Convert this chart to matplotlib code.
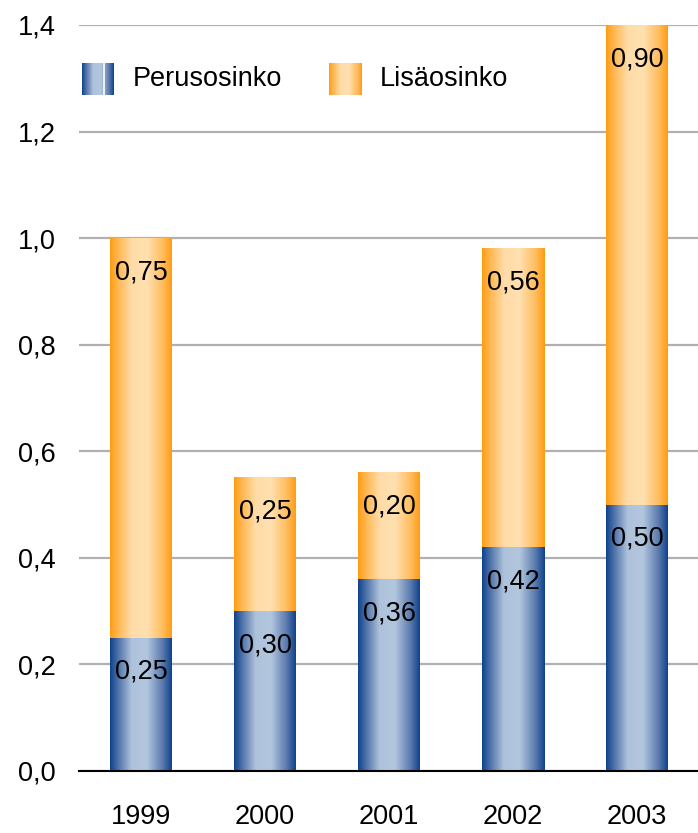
import numpy as np
import matplotlib
matplotlib.use("Agg")
import matplotlib.pyplot as plt
from matplotlib.colors import LinearSegmentedColormap

years = ["1999", "2000", "2001", "2002", "2003"]
perusosinko = [0.25, 0.30, 0.36, 0.42, 0.50]
lisaosinko = [0.75, 0.25, 0.20, 0.56, 0.90]
series_names = ["Perusosinko", "Lisäosinko"]
yticks = [0.0, 0.2, 0.4, 0.6, 0.8, 1.0, 1.2, 1.4]

FONT = ['Liberation Sans', 'DejaVu Sans']
plt.rcParams['font.family'] = FONT

blue_cmap = LinearSegmentedColormap.from_list(
    "b", [(0.0, "#0f428c"), (0.12, "#4a6ea6"), (0.35, "#aec2db"), (0.6, "#b2c6de"),
          (0.85, "#5a7aae"), (1.0, "#0f428c")])
orange_cmap = LinearSegmentedColormap.from_list(
    "o", [(0.0, "#ff9c12"), (0.12, "#ffb54e"), (0.35, "#ffdca8"), (0.6, "#ffe0b0"),
          (0.85, "#ffbd60"), (1.0, "#ff9c12")])
grad = np.linspace(0, 1, 256).reshape(1, -1)

fig = plt.figure(figsize=(6.98, 8.33), dpi=100)
ax = fig.add_axes([79/698, 1-771/833, 620/698, 746/833])

x = np.arange(len(years))
w = 0.5
b1 = ax.bar(x, perusosinko, w, color="none")
b2 = ax.bar(x, lisaosinko, w, bottom=perusosinko, color="none")

for bars, cmap in ((b1, blue_cmap), (b2, orange_cmap)):
    for p in bars:
        x0, y0 = p.get_x(), p.get_y()
        ax.imshow(grad, cmap=cmap, aspect="auto", interpolation="bilinear",
                  extent=[x0, x0 + p.get_width(), y0, y0 + p.get_height()], zorder=2)

for i in range(len(years)):
    ax.annotate(f"{perusosinko[i]:.2f}".replace(".", ","),
                (x[i], perusosinko[i]), xytext=(0, -24.5), textcoords="offset points",
                ha="center", va="center", fontsize=19.5, zorder=4)
    ax.annotate(f"{lisaosinko[i]:.2f}".replace(".", ","),
                (x[i], perusosinko[i] + lisaosinko[i]), xytext=(0, -24.5), textcoords="offset points",
                ha="center", va="center", fontsize=19.5, zorder=4)

ax.set_xlim(-0.5, 4.5)
ax.set_ylim(0, 1.4)
ax.set_yticks(yticks)
ax.set_yticklabels([f"{v:.1f}".replace(".", ",") for v in yticks], fontsize=19.5)
ax.set_xticks(x)
ax.set_xticklabels(years, fontsize=19.5)
ax.tick_params(axis="both", length=0)
ax.tick_params(axis="y", pad=17)
ax.tick_params(axis="x", pad=24)
for s in ["left", "right", "top"]:
    ax.spines[s].set_visible(False)
ax.spines["bottom"].set_linewidth(1.5)
ax.spines["bottom"].set_zorder(5)
ax.yaxis.grid(True, color="#b0b0b0", linewidth=1.6, zorder=0)
ax.set_axisbelow(True)

# legend drawn manually
def to_ax(px, py):
    return (px - 79) / 620, (771 - py) / 746

for (lx, name, cmap) in ((82, series_names[0], blue_cmap), (329, series_names[1], orange_cmap)):
    ax0, ay1 = to_ax(lx, 63)
    ax1, ay0 = to_ax(lx + 32, 95)
    ax.imshow(grad, cmap=cmap, aspect="auto", interpolation="bilinear",
              extent=[ax0, ax1, ay0, ay1], transform=ax.transAxes, zorder=3)
    tx, ty = to_ax(lx + 51, 79)
    ax.text(tx, ty, name, transform=ax.transAxes, ha="left", va="center", fontsize=19.5)
bx, _ = to_ax(82 + 21.5, 79)
ax.plot([bx, bx], [to_ax(0, 95)[1], to_ax(0, 63)[1]], color="white", lw=1.2,
        transform=ax.transAxes, zorder=4)

ax.set_xlim(-0.5, 4.5)
ax.set_ylim(0, 1.4)
fig.savefig("out.png", dpi=100)
